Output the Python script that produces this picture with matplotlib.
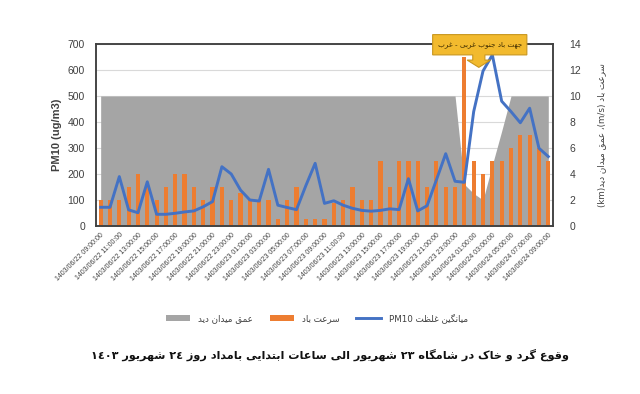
import re
import matplotlib
matplotlib.use("Agg")
import matplotlib.pyplot as plt
from matplotlib.patches import Polygon, Patch
from matplotlib.lines import Line2D
import numpy as np

# ---------------- data ----------------
tick_labels = [
    "1403/06/22 09:00:00", "1403/06/22 11:00:00", "1403/06/22 13:00:00", "1403/06/22 15:00:00",
    "1403/06/22 17:00:00", "1403/06/22 19:00:00", "1403/06/22 21:00:00", "1403/06/22 23:00:00",
    "1403/06/23 01:00:00", "1403/06/23 03:00:00", "1403/06/23 05:00:00", "1403/06/23 07:00:00",
    "1403/06/23 09:00:00", "1403/06/23 11:00:00", "1403/06/23 13:00:00", "1403/06/23 15:00:00",
    "1403/06/23 17:00:00", "1403/06/23 19:00:00", "1403/06/23 21:00:00", "1403/06/23 23:00:00",
    "1403/06/24 01:00:00", "1403/06/24 03:00:00", "1403/06/24 05:00:00", "1403/06/24 07:00:00",
    "1403/06/24 09:00:00",
]

pm10 = [72, 72, 190, 62, 51, 170, 45, 45, 49, 54, 58, 74, 94, 228, 200, 138,
        100, 96, 218, 80, 71, 63, 155, 241, 87, 97, 80, 68, 60, 57, 60, 66,
        63, 182, 58, 78, 177, 278, 172, 168, 440, 596, 658, 480, 440, 397,
        453, 299, 267]

wind = [2, 2, 2, 3, 4, 3, 2, 3, 4, 4, 3, 2, 3, 3, 2, 2.5,
        2, 2, 2, 0.5, 2, 3, 0.5, 0.5, 0.5, 1.8, 2, 3, 2, 2, 5, 3,
        5, 5, 5, 3, 5, 3, 3, 13, 5, 4, 5, 5, 6, 7,
        7, 6, 5]

visibility = [10] * 39 + [3.2, 2.5, 2, 4.7, 7.3, 10, 10, 10, 10, 10]

title_text = "وقوع گرد و خاک در شامگاه ٢٣ شهریور الی ساعات ابتدایی بامداد روز ٢٤ شهریور ١٤٠٣"
callout_text = "جهت باد جنوب غربی - غرب"
leg_vis = "عمق میدان دید"
leg_wind = "سرعت باد"
leg_pm = "میانگین غلظت PM10"
left_label = "PM10 (ug/m3)"
right_label = "سرعت باد (m/s)، عمق میدان دید(km)"

# ------------- minimal Arabic/Persian shaping for display -------------
D_FORMS = {
    'ب': '\uFE8F\uFE90\uFE91\uFE92', 'ت': '\uFE95\uFE96\uFE97\uFE98',
    'ث': '\uFE99\uFE9A\uFE9B\uFE9C', 'ج': '\uFE9D\uFE9E\uFE9F\uFEA0',
    'ح': '\uFEA1\uFEA2\uFEA3\uFEA4', 'خ': '\uFEA5\uFEA6\uFEA7\uFEA8',
    'س': '\uFEB1\uFEB2\uFEB3\uFEB4', 'ش': '\uFEB5\uFEB6\uFEB7\uFEB8',
    'ص': '\uFEB9\uFEBA\uFEBB\uFEBC', 'ض': '\uFEBD\uFEBE\uFEBF\uFEC0',
    'ط': '\uFEC1\uFEC2\uFEC3\uFEC4', 'ظ': '\uFEC5\uFEC6\uFEC7\uFEC8',
    'ع': '\uFEC9\uFECA\uFECB\uFECC', 'غ': '\uFECD\uFECE\uFECF\uFED0',
    'ف': '\uFED1\uFED2\uFED3\uFED4', 'ق': '\uFED5\uFED6\uFED7\uFED8',
    'ل': '\uFEDD\uFEDE\uFEDF\uFEE0', 'م': '\uFEE1\uFEE2\uFEE3\uFEE4',
    'ن': '\uFEE5\uFEE6\uFEE7\uFEE8', 'ه': '\uFEE9\uFEEA\uFEEB\uFEEC',
    'ی': '\uFBFC\uFBFD\uFBFE\uFBFF', 'ک': '\uFB8E\uFB8F\uFB90\uFB91',
    'گ': '\uFB92\uFB93\uFB94\uFB95', 'پ': '\uFB56\uFB57\uFB58\uFB59',
    'چ': '\uFB7A\uFB7B\uFB7C\uFB7D',
}
R_FORMS = {
    'ا': '\uFE8D\uFE8E', 'د': '\uFEA9\uFEAA', 'ذ': '\uFEAB\uFEAC',
    'ر': '\uFEAD\uFEAE', 'ز': '\uFEAF\uFEB0', 'و': '\uFEED\uFEEE',
    'آ': '\uFE81\uFE82', 'ژ': '\uFB8A\uFB8B',
}


def shape(s):
    out = []
    n = len(s)
    for i, c in enumerate(s):
        prev = s[i - 1] if i > 0 else ''
        nxt = s[i + 1] if i < n - 1 else ''
        jp = prev in D_FORMS
        if c in D_FORMS:
            jn = (nxt in D_FORMS) or (nxt in R_FORMS)
            f = D_FORMS[c]
            out.append(f[3] if (jp and jn) else f[1] if jp else f[2] if jn else f[0])
        elif c in R_FORMS:
            f = R_FORMS[c]
            out.append(f[1] if jp else f[0])
        else:
            out.append(c)
    return ''.join(out)


LTR = r'[A-Za-z0-9\u0660-\u0669\u06F0-\u06F9()/.]'


def rtl(s):
    s = shape(s)
    tokens = re.findall(LTR + r'+|(?:(?!' + LTR + r').)+', s)
    vis = []
    for t in reversed(tokens):
        if re.match(LTR, t):
            vis.append(t)
        else:
            vis.append(t[::-1])
    return ''.join(vis)


# ---------------- figure ----------------
ARABIC = ['DejaVu Sans']
NUM = ['Liberation Sans', 'DejaVu Sans']
NARROW = ['Liberation Sans Narrow', 'DejaVu Sans Condensed', 'Liberation Sans', 'DejaVu Sans']

fig = plt.figure(figsize=(6.4, 3.94), dpi=100)
ax = fig.add_axes([0.150, 0.4264, 0.714, 0.462])
ax2 = ax.twinx()
ax2.set_zorder(ax.get_zorder() - 1)
ax.patch.set_visible(False)

x = np.arange(len(pm10))

ax2.fill_between(x, visibility, 0, color='#A5A5A5', lw=0, zorder=1)
ax2.bar(x, wind, width=0.45, color='#ED7D31', zorder=2)
ax.plot(x, pm10, color='#4472C4', lw=2.1, zorder=3, solid_joinstyle='round')

ax.set_xlim(-0.5, len(pm10) - 0.5)
ax.set_ylim(0, 700)
ax2.set_ylim(0, 14)
ax.set_yticks(range(0, 701, 100))
ax2.set_yticks(range(0, 15, 2))
ax2.grid(axis='y', color='#D9D9D9', lw=0.8, zorder=0)
ax2.set_axisbelow(True)

ax.set_xticks(x[::2])
ax.set_xticklabels(tick_labels, rotation=45, ha='right', rotation_mode='anchor',
                   fontsize=5.0, family=NARROW, color='#404040')
ax.tick_params(axis='x', length=0, pad=4)
ax.tick_params(axis='y', length=0, pad=8, labelsize=7.5, labelcolor='#404040')
ax2.tick_params(axis='y', length=0, pad=12, labelsize=7.5, labelcolor='#404040')
for lab in ax.get_yticklabels() + ax2.get_yticklabels():
    lab.set_family(NUM)

for a in (ax, ax2):
    for sp in a.spines.values():
        sp.set_color('#404040')
        sp.set_linewidth(1.1)

ax.set_ylabel(left_label, fontsize=8, fontweight='bold', family=NUM, color='#404040', labelpad=4)
ax2.set_ylabel(rtl(right_label), fontsize=6.3, family=ARABIC, color='#404040',
               rotation=90, labelpad=11)

# callout (down-arrow callout)
bx0, bx1, by0, by1 = 35.6, 45.7, 658, 736
sx0, sx1, hx0, hx1, hy, tip = 39.9, 41.2, 39.3, 41.8, 638, 610
cx = (sx0 + sx1) / 2
poly = Polygon([(bx0, by1), (bx1, by1), (bx1, by0), (sx1, by0), (sx1, hy), (hx1, hy),
                (cx, tip), (hx0, hy), (sx0, hy), (sx0, by0), (bx0, by0)],
               closed=True, facecolor='#F2BA2E', edgecolor='#C8961E', lw=0.8,
               clip_on=False, zorder=10)
ax.add_patch(poly)
ax.text((bx0 + bx1) / 2, (by0 + by1) / 2, rtl(callout_text), fontsize=5.2,
        family=ARABIC, color='#3B2A00', ha='center', va='center', zorder=11, clip_on=False)

# legend
handles = [Patch(facecolor='#A5A5A5', edgecolor='none'),
           Patch(facecolor='#ED7D31', edgecolor='none'),
           Line2D([0], [0], color='#4472C4', lw=2.1)]
labels = [rtl(leg_vis), rtl(leg_wind), rtl(leg_pm)]
fig.legend(handles, labels, loc='center', bbox_to_anchor=(0.495, 0.193), ncol=3,
           frameon=False, prop={'family': ARABIC, 'size': 6.3}, labelcolor='#404040',
           handlelength=2.8, handleheight=0.8, columnspacing=1.9, handletextpad=0.9)

fig.text(0.515, 0.099, rtl(title_text), fontsize=8.1, fontweight='bold',
         family=ARABIC, color='#111111', ha='center', va='center')

fig.savefig('out.png', dpi=100, facecolor='white')
